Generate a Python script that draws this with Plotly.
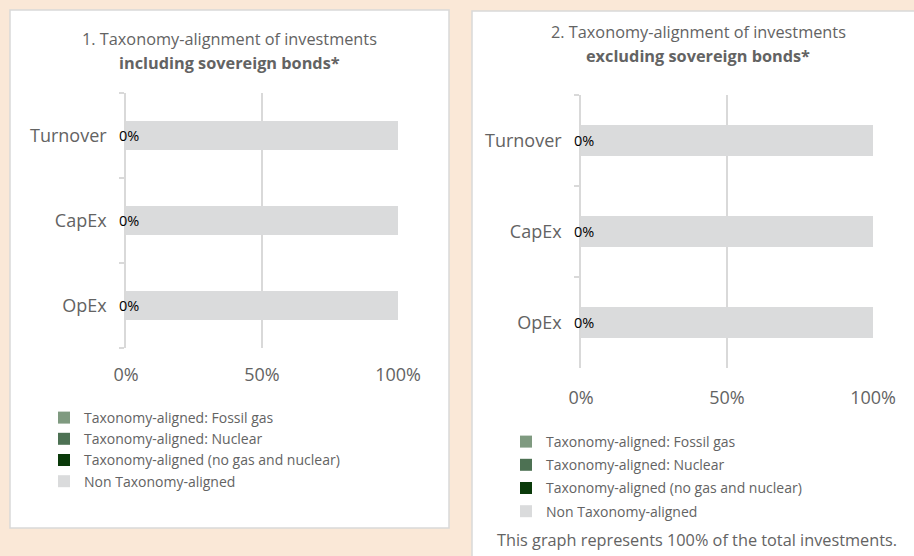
import plotly.graph_objects as go

# ---------------- data ----------------
categories = ["Turnover", "CapEx", "OpEx"]
series_names = [
    "Taxonomy-aligned: Fossil gas",
    "Taxonomy-aligned: Nuclear",
    "Taxonomy-aligned (no gas and nuclear)",
    "Non Taxonomy-aligned",
]
series_colors = ["#7F9A80", "#4D7153", "#0A3A0A", "#DADBDC"]

# chart 1: including sovereign bonds
incl_fossil = [0, 0, 0]
incl_nuclear = [0, 0, 0]
incl_aligned = [0, 0, 0]
incl_non = [100, 100, 100]

# chart 2: excluding sovereign bonds
excl_fossil = [0, 0, 0]
excl_nuclear = [0, 0, 0]
excl_aligned = [0, 0, 0]
excl_non = [100, 100, 100]

x_tick_vals = [0, 50, 100]
x_tick_text = ["0%", "50%", "100%"]

title1_line1 = "1. Taxonomy-alignment of investments"
title1_line2 = "including sovereign bonds*"
title2_line1 = "2. Taxonomy-alignment of investments"
title2_line2 = "excluding sovereign bonds*"
footer_text = "This graph represents 100% of the total investments."

# ---------------- layout helpers ----------------
W, H = 914, 556
FONT = "Open Sans"
GRAY = "#636363"
GRID = "#D9D9D9"


def fx(px):
    return px / W


def fy(py):
    return 1 - py / H


fig = go.Figure()

panels = [
    dict(xa="x", ya="y", legend="legend",
         data=[incl_fossil, incl_nuclear, incl_aligned, incl_non]),
    dict(xa="x2", ya="y2", legend="legend2",
         data=[excl_fossil, excl_nuclear, excl_aligned, excl_non]),
]

for p in panels:
    for name, color, vals in zip(series_names, series_colors, p["data"]):
        fig.add_trace(go.Bar(
            x=vals, y=categories, orientation="h", name=name,
            marker=dict(color=color, line=dict(width=0)),
            xaxis=p["xa"], yaxis=p["ya"], legend=p["legend"],
            legendgroup=p["legend"] + name,
            hoverinfo="skip",
        ))
    # data labels for the taxonomy-aligned series
    aligned = p["data"][2]
    for cat, v in zip(categories, aligned):
        fig.add_annotation(
            x=v, y=cat, xref=p["xa"], yref=p["ya"], text=f"{v:.0f}%",
            showarrow=False, xanchor="center", yanchor="middle", xshift=3,
            font=dict(family=FONT, size=14.5, color="#000000"),
        )

axis_common_x = dict(
    range=[0, 100], tickvals=x_tick_vals, ticktext=x_tick_text,
    showgrid=True, gridcolor=GRID, gridwidth=1.5, zeroline=False,
    showline=False, ticks="", fixedrange=True, automargin=False,
    tickfont=dict(family=FONT, size=18, color=GRAY),
)
axis_common_y = dict(
    categoryorder="array", categoryarray=categories[::-1],
    showline=True, linecolor=GRID, linewidth=1.5,
    ticks="outside", tickson="boundaries", ticklen=5, tickcolor=GRID,
    tickwidth=1.5, showgrid=False, zeroline=False, fixedrange=True,
    automargin=False,
    tickfont=dict(family=FONT, size=18, color=GRAY),
)

fig.update_layout(
    width=W, height=H, autosize=False,
    margin=dict(l=0, r=0, t=0, b=0, pad=0),
    paper_bgcolor="#FAE8D7",
    plot_bgcolor="rgba(0,0,0,0)",
    barmode="stack",
    bargap=0.66,
    xaxis=dict(domain=[fx(126), fx(398)], anchor="y",
               ticklabelstandoff=14, **axis_common_x),
    yaxis=dict(domain=[fy(348), fy(93)], anchor="x",
               ticklabelstandoff=14, **axis_common_y),
    xaxis2=dict(domain=[fx(581), fx(873)], anchor="y2",
                ticklabelstandoff=17, **axis_common_x),
    yaxis2=dict(domain=[fy(368), fy(95)], anchor="x2",
                ticklabelstandoff=14, **axis_common_y),
    legend=dict(
        x=fx(44), y=fy(402), xanchor="left", yanchor="top",
        orientation="v", traceorder="normal",
        bgcolor="rgba(0,0,0,0)",
        font=dict(family=FONT, size=14, color=GRAY),
    ),
    legend2=dict(
        x=fx(506), y=fy(426), xanchor="left", yanchor="top",
        orientation="v", traceorder="grouped", tracegroupgap=2,
        bgcolor="rgba(0,0,0,0)",
        font=dict(family=FONT, size=14, color=GRAY),
    ),
    shapes=[
        dict(type="rect", xref="paper", yref="paper", layer="below",
             x0=fx(10), x1=fx(449), y0=fy(528), y1=fy(10),
             fillcolor="#FFFFFF", line=dict(color="#D9D9D9", width=1.5)),
        dict(type="rect", xref="paper", yref="paper", layer="below",
             x0=fx(472), x1=fx(930), y0=fy(570), y1=fy(11),
             fillcolor="#FFFFFF", line=dict(color="#D9D9D9", width=1.5)),
    ],
)

titles = [
    (title1_line1, False, 230, 39),
    (title1_line2, True, 230, 63),
    (title2_line1, False, 698, 32),
    (title2_line2, True, 698, 56),
]
for txt, bold, cx, cy in titles:
    fig.add_annotation(
        x=fx(cx), y=fy(cy), xref="paper", yref="paper",
        text=f"<b>{txt}</b>" if bold else txt, showarrow=False,
        xanchor="center", yanchor="middle",
        font=dict(family=FONT, size=16.3, color=GRAY),
    )

fig.add_annotation(
    x=fx(697), y=fy(540), xref="paper", yref="paper", text=footer_text,
    showarrow=False, xanchor="center", yanchor="middle",
    font=dict(family=FONT, size=16.3, color=GRAY),
)

fig.write_html(
    "out.html",
    config={"responsive": False, "displayModeBar": False},
    post_script="document.body.style.margin='0';document.body.style.overflow='hidden';",
)
